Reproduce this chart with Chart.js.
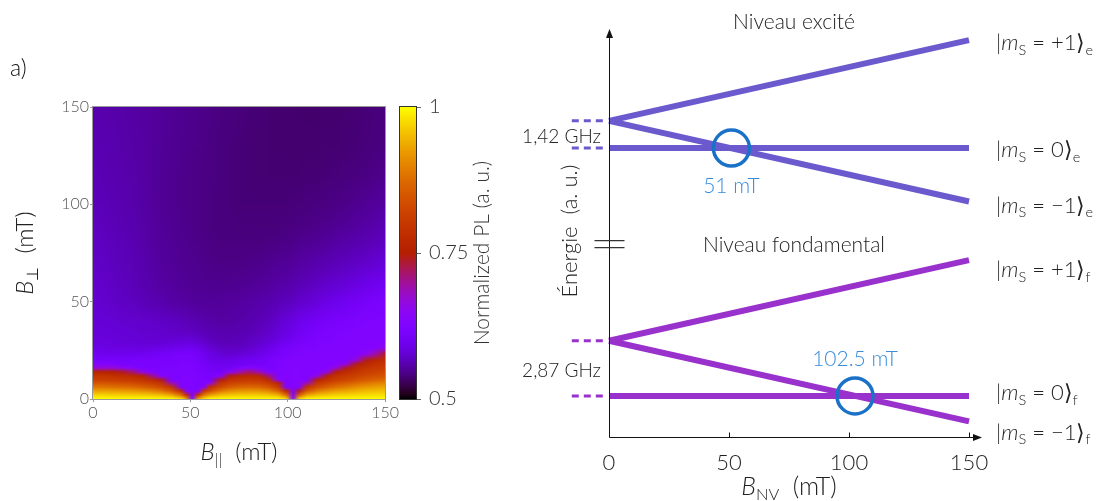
<!DOCTYPE html>
<html>
<head>
<meta charset="utf-8">
<script src="https://cdn.jsdelivr.net/npm/chart.js@4.4.1/dist/chart.umd.min.js"></script>
<style>
  html, body { margin: 0; padding: 0; background: #fff; }
  body { position: relative; width: 1101px; height: 501px; overflow: hidden; }
  canvas { position: absolute; top: 0; }
</style>
</head>
<body>
<canvas id="mapChart" width="400" height="501" style="left:0"></canvas>
<canvas id="barChart" width="130" height="501" style="left:390px"></canvas>
<canvas id="levelChart" width="601" height="501" style="left:500px"></canvas>
<script>
// ---- panel a) : normalized PL map ----
const bParallel = [0, 5, 10, 15, 20, 25, 30, 35, 40, 45, 48, 51, 54, 57, 60, 65, 70, 75, 80, 85, 90, 95, 99, 102.5, 106, 110, 115, 120, 125, 130, 135, 140, 145, 150];
const bPerp = [0, 2, 4, 6, 8, 10, 12, 14, 16, 18, 20, 23, 26, 30, 35, 40, 50, 60, 70, 80, 90, 100, 115, 130, 150];
// one row per bPerp value, one column per bParallel value
const plRows = [
  [1, 1, 1, 1, 1, 1, 1, 1, 1, .98, .93, .64, .93, .98, 1, 1, 1, 1, 1, 1, 1, 1, .98, .64, .97, 1, 1, 1, 1, 1, 1, 1, 1, 1],
  [.97, .97, .966, .964, .963, .96, .957, .95, .93, .872, .79, .63, .79, .885, .924, .95, .958, .962, .963, .962, .957, .94, .872, .635, .855, .93, .952, .96, .966, .969, .972, .975, .977, .978],
  [.93, .93, .927, .924, .921, .913, .903, .885, .847, .777, .63, .628, .628, .795, .837, .885, .908, .918, .921, .918, .903, .864, .777, .633, .74, .847, .892, .913, .927, .935, .943, .95, .953, .957],
  [.885, .885, .88, .876, .872, .861, .85, .83, .795, .625, .625, .627, .622, .635, .784, .83, .855, .867, .872, .867, .85, .81, .632, .632, .632, .795, .837, .861, .88, .894, .908, .92, .926, .932],
  [.845, .845, .842, .837, .832, .822, .811, .795, .69, .625, .625, .626, .622, .618, .655, .795, .817, .827, .832, .827, .811, .765, .63, .632, .632, .69, .8, .822, .842, .855, .872, .885, .895, .903],
  [.815, .815, .812, .808, .804, .795, .781, .74, .622, .625, .625, .625, .622, .618, .612, .74, .788, .8, .804, .8, .781, .642, .63, .632, .632, .63, .757, .795, .812, .825, .841, .855, .865, .873],
  [.795, .795, .79, .784, .777, .76, .71, .635, .622, .625, .625, .625, .621, .617, .612, .635, .74, .77, .777, .77, .71, .625, .63, .632, .632, .63, .655, .76, .79, .803, .817, .83, .84, .847],
  [.76, .76, .752, .74, .715, .66, .63, .62, .622, .624, .624, .624, .62, .615, .61, .605, .645, .685, .715, .685, .632, .625, .63, .632, .632, .63, .63, .66, .752, .78, .798, .81, .82, .828],
  [.67, .67, .67, .655, .64, .618, .618, .62, .62, .622, .622, .622, .618, .612, .605, .602, .6, .625, .64, .628, .615, .624, .63, .631, .631, .63, .63, .632, .67, .74, .777, .795, .803, .811],
  [.63, .63, .625, .615, .612, .615, .616, .618, .618, .62, .62, .62, .615, .607, .6, .597, .596, .6, .605, .608, .614, .623, .628, .63, .63, .63, .63, .63, .632, .66, .74, .775, .788, .797],
  [.612, .61, .61, .61, .612, .612, .612, .615, .615, .617, .617, .617, .61, .6, .593, .59, .59, .597, .6, .606, .612, .622, .627, .63, .63, .63, .63, .63, .63, .63, .665, .74, .765, .782],
  [.6, .598, .597, .597, .598, .6, .603, .607, .61, .612, .612, .612, .607, .598, .588, .58, .578, .58, .585, .592, .6, .61, .618, .622, .625, .627, .628, .63, .63, .63, .63, .652, .69, .74],
  [.59, .588, .587, .586, .586, .586, .587, .59, .594, .598, .6, .6, .594, .586, .578, .572, .569, .57, .575, .583, .592, .603, .612, .618, .62, .623, .625, .627, .628, .629, .63, .632, .633, .66],
  [.585, .584, .583, .581, .58, .579, .578, .578, .58, .582, .583, .582, .578, .574, .568, .564, .563, .565, .569, .574, .58, .59, .597, .603, .608, .614, .62, .624, .626, .628, .629, .63, .63, .632],
  [.582, .581, .58, .579, .578, .576, .575, .574, .572, .57, .569, .568, .566, .564, .562, .561, .56, .561, .563, .567, .572, .58, .587, .593, .6, .607, .614, .619, .622, .625, .627, .628, .628, .628],
  [.58, .579, .578, .576, .575, .574, .573, .571, .57, .567, .565, .563, .561, .559, .557, .555, .556, .558, .56, .564, .568, .575, .582, .587, .593, .6, .605, .61, .615, .618, .622, .625, .625, .625],
  [.577, .575, .573, .57, .568, .565, .562, .56, .557, .555, .554, .553, .552, .552, .552, .552, .553, .554, .556, .558, .56, .564, .567, .57, .574, .578, .584, .59, .595, .6, .605, .61, .615, .62],
  [.575, .572, .57, .567, .565, .561, .558, .555, .553, .551, .55, .549, .548, .548, .547, .547, .547, .548, .549, .551, .553, .555, .557, .559, .562, .565, .569, .573, .576, .58, .585, .59, .595, .6],
  [.572, .57, .567, .565, .563, .56, .556, .553, .551, .549, .548, .548, .547, .546, .545, .544, .544, .544, .545, .546, .548, .55, .551, .553, .555, .557, .56, .562, .565, .568, .571, .575, .578, .582],
  [.57, .568, .566, .564, .562, .558, .555, .552, .55, .548, .547, .546, .545, .544, .543, .542, .542, .542, .542, .542, .543, .544, .545, .546, .548, .549, .551, .553, .556, .558, .56, .563, .566, .57],
  [.568, .566, .564, .562, .56, .557, .554, .551, .549, .547, .546, .545, .544, .543, .542, .541, .541, .54, .54, .54, .54, .54, .541, .542, .543, .544, .545, .547, .549, .551, .553, .556, .559, .562],
  [.566, .564, .562, .561, .559, .556, .553, .55, .548, .546, .545, .545, .544, .543, .542, .541, .54, .539, .539, .539, .539, .539, .539, .54, .54, .541, .542, .543, .544, .546, .548, .55, .552, .555],
  [.564, .562, .561, .559, .558, .555, .553, .55, .548, .546, .545, .545, .544, .543, .543, .541, .54, .539, .538, .537, .537, .537, .537, .537, .537, .538, .538, .539, .54, .541, .542, .543, .545, .547],
  [.562, .561, .56, .558, .557, .555, .553, .551, .549, .547, .546, .546, .545, .544, .543, .541, .54, .539, .538, .537, .537, .536, .536, .536, .536, .536, .536, .537, .537, .538, .539, .54, .541, .543],
  [.56, .559, .558, .557, .556, .554, .553, .551, .55, .548, .547, .547, .546, .545, .544, .542, .541, .54, .539, .538, .537, .536, .536, .536, .535, .535, .535, .536, .536, .537, .538, .539, .54, .541]
];
const mapTicks = [0, 50, 100, 150];
const colorTicks = [0.5, 0.75, 1];

// ---- energy diagram (GHz, axis broken between the two manifolds) ----
const bNV = [0, 150];
const bDash = [-15.5, -1.5];
const excitedPlus = [14.32, 18.52];
const excitedZero = [12.9, 12.9];
const excitedMinus = [14.32, 10.12];
const groundPlus = [2.87, 7.07];
const groundZero = [0, 0];
const groundMinus = [2.87, -1.33];
const crossingField = [51, 102.5];
const crossingEnergy = [12.9, 0];
const crossingLabels = ["51 mT", "102.5 mT"];
const axisBreak = 7.9;

const FONT = "Lato, 'DejaVu Sans', sans-serif";
const EXC = "#6a5acd";
const GND = "#9932cc";
const RING = "#1a72c8";

function gnuplot(v) {
  const t = Math.min(1, Math.max(0, (v - 0.5) / 0.5));
  return [Math.sqrt(t), t ** 3, Math.max(0, Math.sin(2 * Math.PI * t))].map(c => Math.round(c * 255));
}

function drawRich(ctx, parts, x, y, size, align, color) {
  const spec = parts.map(([text, kind]) => {
    const s = kind === "sub" ? size * 0.66 : size;
    const f = `${kind === "i" ? "italic " : ""}300 ${s}px ${FONT}`;
    ctx.font = f;
    return { text, f, w: ctx.measureText(text).width, dy: kind === "sub" ? size * 0.32 : 0 };
  });
  const total = spec.reduce((s, p) => s + p.w, 0);
  let cx = align === "center" ? x - total / 2 : align === "right" ? x - total : x;
  ctx.fillStyle = color;
  ctx.textBaseline = "middle";
  ctx.textAlign = "left";
  spec.forEach(p => {
    ctx.font = p.f;
    ctx.fillText(p.text, cx, y + p.dy);
    cx += p.w;
  });
}

function fixedTicks(values) {
  return scale => { scale.ticks = values.map(v => ({ value: v })); };
}

// heat map: every cell between grid nodes is filled with a bilinear blend of its 4 corner colours
const heatmapPlugin = {
  id: "heatmap",
  beforeDatasetsDraw(chart) {
    const { ctx, chartArea: a, scales: { x, y } } = chart;
    const nc = bParallel.length, nr = bPerp.length;
    const off = document.createElement("canvas");
    off.width = nc;
    off.height = nr;
    const octx = off.getContext("2d");
    const img = octx.createImageData(nc, nr);
    plRows.forEach((row, j) => row.forEach((v, i) => {
      const [r, g, b] = gnuplot(v);
      const k = ((nr - 1 - j) * nc + i) * 4;
      img.data[k] = r; img.data[k + 1] = g; img.data[k + 2] = b; img.data[k + 3] = 255;
    }));
    octx.putImageData(img, 0, 0);

    ctx.save();
    ctx.imageSmoothingEnabled = true;
    for (let j = 0; j < nr - 1; j++) {
      const yBot = Math.round(y.getPixelForValue(bPerp[j]));
      const yTop = Math.round(y.getPixelForValue(bPerp[j + 1]));
      const h = yBot - yTop;
      for (let i = 0; i < nc - 1; i++) {
        const x0 = Math.round(x.getPixelForValue(bParallel[i]));
        const x1 = Math.round(x.getPixelForValue(bParallel[i + 1]));
        const w = x1 - x0;
        ctx.save();
        ctx.beginPath();
        ctx.rect(x0, yTop, w, h);
        ctx.clip();
        ctx.drawImage(off, i, nr - 2 - j, 2, 2, x0 - w / 2, yTop - h / 2, 2 * w, 2 * h);
        ctx.restore();
      }
    }
    ctx.strokeStyle = "#999";
    ctx.lineWidth = 1;
    ctx.strokeRect(Math.round(a.left) - 0.5, Math.round(a.top) - 0.5, Math.round(a.right - a.left) + 1, Math.round(a.bottom - a.top) + 1);
    ctx.restore();
  },
  afterDraw(chart) {
    const { ctx, chartArea: a } = chart;
    ctx.save();
    drawRich(ctx, [["a)", ""]], 10, 69, 23, "left", "#111");
    drawRich(ctx, [["B", "i"], ["||", "sub"], ["  (mT)", ""]], (a.left + a.right) / 2, a.bottom + 53, 24, "center", "#222");
    ctx.translate(25, (a.top + a.bottom) / 2);
    ctx.rotate(-Math.PI / 2);
    drawRich(ctx, [["B", "i"], ["⊥", "sub"], ["  (mT)", ""]], 0, 0, 24, "center", "#222");
    ctx.restore();
  }
};

new Chart(document.getElementById("mapChart"), {
  type: "scatter",
  data: { datasets: [] },
  options: {
    responsive: false,
    animation: false,
    layout: { padding: { left: 0, right: 14, top: 107, bottom: 72 } },
    plugins: { legend: { display: false }, tooltip: { enabled: false } },
    scales: {
      x: {
        type: "linear", min: 0, max: 150,
        afterBuildTicks: fixedTicks(mapTicks),
        afterFit: s => { s.height = 30; },
        grid: { drawOnChartArea: false, tickLength: 3, color: "#999" },
        border: { color: "#999" },
        ticks: { color: "#555", padding: 1, maxRotation: 0, font: { family: FONT, weight: 300, size: 16 } }
      },
      y: {
        type: "linear", min: 0, max: 150,
        afterBuildTicks: fixedTicks(mapTicks),
        afterFit: s => { s.width = 93; },
        grid: { drawOnChartArea: false, tickLength: 3, color: "#999" },
        border: { color: "#999" },
        ticks: { color: "#555", padding: 1, font: { family: FONT, weight: 300, size: 16 } }
      }
    }
  },
  plugins: [heatmapPlugin]
});

// colour bar
const colorbarPlugin = {
  id: "colorbar",
  beforeDatasetsDraw(chart) {
    const { ctx, chartArea: a, scales: { y } } = chart;
    const g = ctx.createLinearGradient(0, y.getPixelForValue(0.5), 0, y.getPixelForValue(1));
    for (let k = 0; k <= 50; k++) {
      const [r, gg, b] = gnuplot(0.5 + k / 100);
      g.addColorStop(k / 50, `rgb(${r},${gg},${b})`);
    }
    ctx.save();
    ctx.fillStyle = g;
    ctx.fillRect(a.left, a.top, a.right - a.left, a.bottom - a.top);
    ctx.strokeStyle = "#333";
    ctx.lineWidth = 1;
    ctx.strokeRect(Math.round(a.left) - 0.5, Math.round(a.top) - 0.5, Math.round(a.right - a.left) + 1, Math.round(a.bottom - a.top) + 1);
    ctx.restore();
  },
  afterDraw(chart) {
    const { ctx, chartArea: a } = chart;
    ctx.save();
    ctx.translate(92, (a.top + a.bottom) / 2);
    ctx.rotate(-Math.PI / 2);
    drawRich(ctx, [["Normalized PL (a. u.)", ""]], 0, 0, 21, "center", "#333");
    ctx.restore();
  }
};

new Chart(document.getElementById("barChart"), {
  type: "scatter",
  data: { datasets: [] },
  options: {
    responsive: false,
    animation: false,
    layout: { padding: { left: 10, right: 0, top: 107, bottom: 102 } },
    plugins: { legend: { display: false }, tooltip: { enabled: false } },
    scales: {
      x: { display: false, min: 0, max: 1 },
      y: {
        position: "right", min: 0.5, max: 1,
        afterBuildTicks: fixedTicks(colorTicks),
        afterFit: s => { s.width = 104; },
        grid: { drawOnChartArea: false, tickLength: 5, color: "#666" },
        border: { color: "#333" },
        ticks: { color: "#333", padding: 8, callback: v => String(v), font: { family: FONT, weight: 300, size: 20 } }
      }
    }
  },
  plugins: [colorbarPlugin]
});

// ---- energy level diagram ----
const toPoints = (xs, ys) => xs.map((v, i) => ({ x: v, y: ys[i] }));

function levelLine(values, color) {
  return { data: toPoints(bNV, values), borderColor: color, borderWidth: 6, pointRadius: 0, clip: false, order: 1 };
}
function dashLine(value, color) {
  return { data: toPoints(bDash, [value, value]), borderColor: color, borderWidth: 3, borderDash: [7, 5], pointRadius: 0, clip: false, order: 1 };
}

const kets = [
  { values: excitedPlus, parts: [["|", ""], ["m", "i"], ["S", "sub"], [" = +1", ""], ["⟩", ""], ["e", "sub"]], dy: 3 },
  { values: excitedZero, parts: [["|", ""], ["m", "i"], ["S", "sub"], [" = 0", ""], ["⟩", ""], ["e", "sub"]], dy: 2 },
  { values: excitedMinus, parts: [["|", ""], ["m", "i"], ["S", "sub"], [" = −1", ""], ["⟩", ""], ["e", "sub"]], dy: 4 },
  { values: groundPlus, parts: [["|", ""], ["m", "i"], ["S", "sub"], [" = +1", ""], ["⟩", ""], ["f", "sub"]], dy: 10 },
  { values: groundZero, parts: [["|", ""], ["m", "i"], ["S", "sub"], [" = 0", ""], ["⟩", ""], ["f", "sub"]], dy: -3 },
  { values: groundMinus, parts: [["|", ""], ["m", "i"], ["S", "sub"], [" = −1", ""], ["⟩", ""], ["f", "sub"]], dy: 11 }
];

const levelDecor = {
  id: "levelDecor",
  afterDraw(chart) {
    const { ctx, chartArea: a, scales: { x, y } } = chart;
    ctx.save();
    ctx.strokeStyle = "#111";
    ctx.fillStyle = "#111";
    ctx.lineWidth = 1;
    const ox = Math.round(a.left) + 0.5;
    const oy = Math.round(a.bottom) + 0.5;
    const xEnd = a.right + 13;
    ctx.beginPath();
    ctx.moveTo(ox, oy); ctx.lineTo(ox, a.top + 2);
    ctx.moveTo(ox, oy); ctx.lineTo(xEnd - 2, oy);
    mapTicks.slice(1).forEach(v => {
      const px = Math.round(x.getPixelForValue(v)) + 0.5;
      ctx.moveTo(px, oy); ctx.lineTo(px, oy - 5);
    });
    ctx.stroke();
    ctx.beginPath();
    ctx.moveTo(ox, a.top); ctx.lineTo(ox - 3.5, a.top + 9); ctx.lineTo(ox + 3.5, a.top + 9); ctx.closePath();
    ctx.moveTo(xEnd, oy); ctx.lineTo(xEnd - 9, oy - 3.5); ctx.lineTo(xEnd - 9, oy + 3.5); ctx.closePath();
    ctx.fill();

    // axis break
    const yb = y.getPixelForValue(axisBreak);
    ctx.lineWidth = 1.3;
    ctx.strokeStyle = "#333";
    ctx.beginPath();
    ctx.moveTo(ox - 15, yb - 3.5); ctx.lineTo(ox + 15, yb - 3.5);
    ctx.moveTo(ox - 15, yb + 3.5); ctx.lineTo(ox + 15, yb + 3.5);
    ctx.stroke();

    const midX = (a.left + a.right) / 2;
    drawRich(ctx, [["Niveau excité", ""]], midX + 5, a.top - 7, 21, "center", "#222");
    drawRich(ctx, [["Niveau fondamental", ""]], midX + 5, yb + 1, 21, "center", "#222");

    const gap = (v1, v2) => (y.getPixelForValue(v1) + y.getPixelForValue(v2)) / 2;
    drawRich(ctx, [["1,42 GHz", ""]], a.left - 8, gap(excitedPlus[0], excitedZero[0]) + 2, 19, "right", "#222");
    drawRich(ctx, [["2,87 GHz", ""]], a.left - 8, gap(groundPlus[0], groundZero[0]) + 3, 19, "right", "#222");

    crossingField.forEach((b, i) => {
      const cx = x.getPixelForValue(b);
      const cy = y.getPixelForValue(crossingEnergy[i]) + (i === 0 ? 38 : -37);
      drawRich(ctx, [[crossingLabels[i], ""]], cx, cy, 21, "center", "#3b8cdb");
    });

    kets.forEach(k => {
      const py = y.getPixelForValue(k.values[k.values.length - 1]) + k.dy;
      drawRich(ctx, k.parts, a.right + 27, py, 22, "left", "#222");
    });

    drawRich(ctx, [["B", "i"], ["NV", "sub"], ["  (mT)", ""]], midX, a.bottom + 50, 25, "center", "#222");

    ctx.translate(a.left - 39, 231);
    ctx.rotate(-Math.PI / 2);
    drawRich(ctx, [["Énergie  (a. u.)", ""]], 0, 0, 22, "center", "#222");
    ctx.restore();
  }
};

new Chart(document.getElementById("levelChart"), {
  type: "line",
  data: {
    datasets: [
      {
        type: "scatter",
        data: toPoints(crossingField, crossingEnergy),
        pointRadius: 18,
        pointBorderWidth: 3.5,
        pointBorderColor: RING,
        pointBackgroundColor: "rgba(0,0,0,0)",
        showLine: false,
        clip: false,
        order: 0
      },
      levelLine(excitedPlus, EXC),
      levelLine(excitedZero, EXC),
      levelLine(excitedMinus, EXC),
      levelLine(groundPlus, GND),
      levelLine(groundZero, GND),
      levelLine(groundMinus, GND),
      dashLine(excitedPlus[0], EXC),
      dashLine(excitedZero[0], EXC),
      dashLine(groundPlus[0], GND),
      dashLine(groundZero[0], GND)
    ]
  },
  options: {
    responsive: false,
    animation: false,
    layout: { padding: { left: 109, right: 132, top: 29, bottom: 24 } },
    plugins: { legend: { display: false }, tooltip: { enabled: false } },
    scales: {
      x: {
        type: "linear", min: 0, max: 150,
        afterBuildTicks: fixedTicks(mapTicks),
        afterFit: s => { s.height = 40; },
        grid: { display: false, drawTicks: false },
        border: { display: false },
        ticks: { color: "#222", padding: 13, maxRotation: 0, font: { family: FONT, weight: 300, size: 22 } }
      },
      y: { display: false, min: -2.14, max: 19.1 }
    }
  },
  plugins: [levelDecor]
});
</script>
</body>
</html>
